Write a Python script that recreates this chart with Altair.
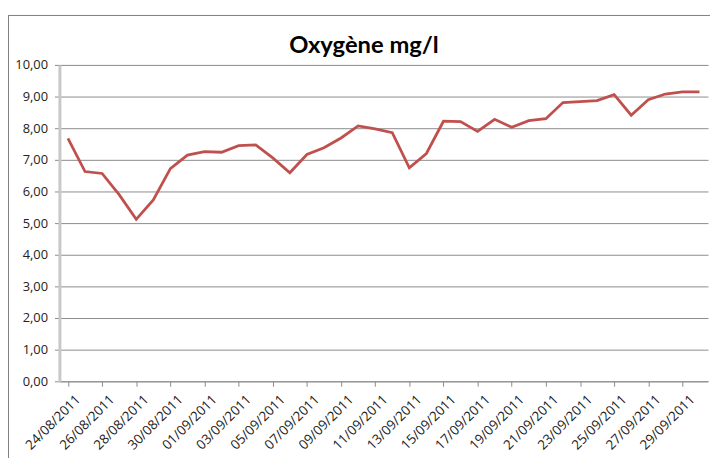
import altair as alt
import pandas as pd

dates = [
    "24/08/2011", "25/08/2011", "26/08/2011", "27/08/2011", "28/08/2011",
    "29/08/2011", "30/08/2011", "31/08/2011", "01/09/2011", "02/09/2011",
    "03/09/2011", "04/09/2011", "05/09/2011", "06/09/2011", "07/09/2011",
    "08/09/2011", "09/09/2011", "10/09/2011", "11/09/2011", "12/09/2011",
    "13/09/2011", "14/09/2011", "15/09/2011", "16/09/2011", "17/09/2011",
    "18/09/2011", "19/09/2011", "20/09/2011", "21/09/2011", "22/09/2011",
    "23/09/2011", "24/09/2011", "25/09/2011", "26/09/2011", "27/09/2011",
    "28/09/2011", "29/09/2011", "30/09/2011",
]
oxygen = [
    7.68, 6.63, 6.57, 5.90, 5.12, 5.73, 6.72, 7.15, 7.26, 7.24,
    7.45, 7.47, 7.06, 6.59, 7.17, 7.38, 7.69, 8.07, 7.98, 7.86,
    6.75, 7.20, 8.22, 8.21, 7.90, 8.28, 8.03, 8.24, 8.30, 8.81,
    8.84, 8.87, 9.06, 8.41, 8.90, 9.08, 9.15, 9.15,
]
label_dates = dates[::2]
y_ticks = [0, 1, 2, 3, 4, 5, 6, 7, 8, 9, 10]
title_text = "Oxygène mg/l"

df = pd.DataFrame({"date": dates, "oxygen": oxygen})

W = 656
H = 320
FONT = "Open Sans"

x_enc = alt.X(
    "date:O",
    sort=None,
    scale=alt.Scale(paddingInner=0, paddingOuter=0),
    axis=alt.Axis(
        values=label_dates,
        title=None,
        labelAngle=-45,
        labelAlign="right",
        labelBaseline="middle",
        bandPosition=0,
        labelOffset=10,
        labelPadding=11,
        labelOverlap=False,
        labelFont=FONT,
        labelFontSize=13.5,
        labelColor="#222222",
        tickColor="#8c8c8c",
        tickSize=5,
        domainColor="#8c8c8c",
        grid=False,
    ),
)
y_enc = alt.Y(
    "oxygen:Q",
    scale=alt.Scale(domain=[0, 10], nice=False, zero=True),
    axis=alt.Axis(
        values=y_ticks,
        title=None,
        labelExpr="replace(format(datum.value, '.2f'), '.', ',')",
        labelFont=FONT,
        labelFontSize=13,
        labelColor="#222222",
        labelPadding=7,
        tickColor="#8c8c8c",
        tickSize=5,
        domainColor="#c8c8c8",
        domainWidth=3,
        gridColor="#8c8c8c",
        gridWidth=1,
    ),
)

line = alt.Chart(df).mark_line(color="#C0504D", strokeWidth=2.8).encode(
    x=x_enc, y=y_enc
)

frame_df = pd.DataFrame({"k": [0]})
top_border = alt.Chart(frame_df).mark_rule(color="#7f7f7f", strokeWidth=1, clip=False).encode(
    x=alt.value(-52), x2=alt.value(W + 10), y=alt.value(-50)
)
left_border = alt.Chart(frame_df).mark_rule(color="#7f7f7f", strokeWidth=1, clip=False).encode(
    x=alt.value(-51.5), y=alt.value(-50), y2=alt.value(H + 100)
)
title_mark = alt.Chart(frame_df).mark_text(
    font="Lato", fontSize=24, fontWeight="bold", color="#000000",
    align="center", baseline="alphabetic", clip=False,
).encode(
    x=alt.value(308), y=alt.value(-12), text=alt.value(title_text)
)

chart = (
    alt.layer(top_border, left_border, line, title_mark)
    .properties(
        width=W,
        height=H,
        autosize=alt.AutoSizeParams(type="none"),
        padding={"left": 52, "top": 55, "right": 2, "bottom": 75},
        background="white",
    )
    .configure_view(stroke=None)
)

chart.save("out.html", embed_options={"renderer": "svg", "actions": False})
